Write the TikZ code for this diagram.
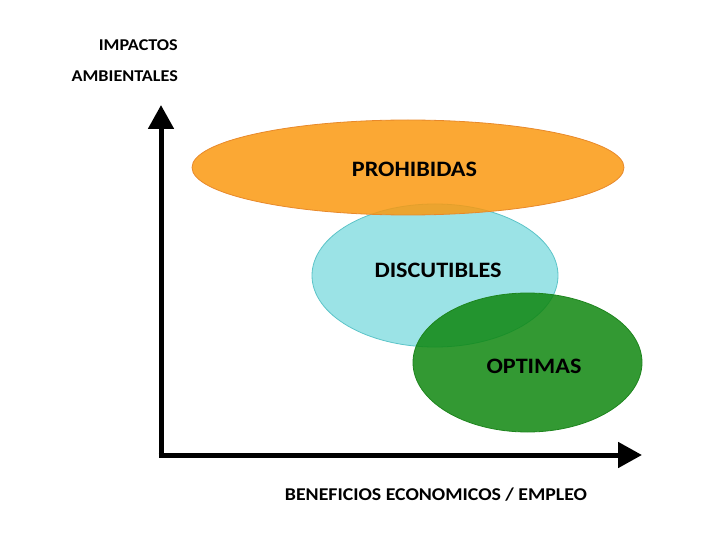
\documentclass[tikz,border=0pt]{standalone}
\usepackage{fontspec}
\usepackage{graphicx}
\setmainfont{Carlito}
\usetikzlibrary{shapes.geometric,arrows.meta}
\definecolor{orfill}{HTML}{FA9910}
\definecolor{ordraw}{HTML}{E8892B}
\definecolor{cyfill}{HTML}{9BE3E6}
\definecolor{cydraw}{HTML}{5CC4C8}
\definecolor{grfill}{HTML}{0F870F}
\definecolor{grdraw}{HTML}{1E851E}
\newcommand{\wide}[1]{\scalebox{1.1}[1]{#1}}
\tikzset{
  zone/.style={ellipse, inner sep=0pt, line width=0.8pt, fill opacity=0.85},
  lbl/.style={inner sep=0pt, font=\bfseries\fontsize{22}{26}\selectfont},
  axlbl/.style={inner sep=0pt, font=\bfseries\fontsize{16.5}{19}\selectfont},
  axis/.style={line width=5pt, -{Triangle[length=24pt,width=25pt]}}
}
\begin{document}
\begin{tikzpicture}[x=1pt,y=-1pt]
\useasboundingbox (0,0) rectangle (720,540);
\node[zone, fill=cyfill, draw=cydraw, fill opacity=1, minimum width=246pt, minimum height=143pt] (disc) at (435,275.5) {};
\node[zone, fill=orfill, draw=ordraw, minimum width=432pt, minimum height=95pt] (proh) at (408,167.5) {};
\node[zone, fill=grfill, draw=grdraw, minimum width=229pt, minimum height=139pt] (opt) at (527.5,362.5) {};
\node[lbl] (tproh) at (414.5,169) {\wide{PROHIBIDAS}};
\node[lbl] (tdisc) at (438,270) {\wide{DISCUTIBLES}};
\node[lbl] (topt) at (534,366) {\wide{OPTIMAS}};
\coordinate (o) at (161,455);
\coordinate (ytip) at (161,105);
\coordinate (xtip) at (642,455);
\draw[axis] ([yshift=2.5pt]o) -- (ytip);
\draw[axis] ([xshift=-2.5pt]o) -- (xtip);
\node[axlbl, anchor=east] (imp) at (178,45) {\wide{IMPACTOS}};
\node[axlbl, anchor=east] (amb) at (178,76) {\wide{AMBIENTALES}};
\node[axlbl, font=\bfseries\fontsize{18}{21}\selectfont] (ben) at (436,495) {\wide{BENEFICIOS ECONOMICOS / EMPLEO}};
\end{tikzpicture}
\end{document}
